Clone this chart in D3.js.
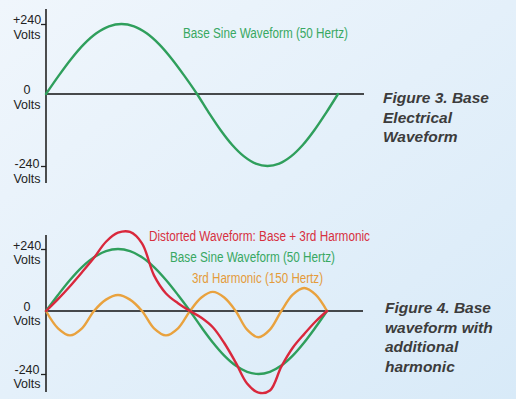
<!DOCTYPE html>
<html><head><meta charset="utf-8">
<script src="https://cdn.jsdelivr.net/npm/d3@7"></script>
<style>
html,body{margin:0;padding:0;background:#e6f1fa;}
svg{display:block;}
</style></head>
<body>
<svg id="chart" width="516" height="399"></svg>
<script>
// ---- data (phase angle in degrees, volts) ----
const angles = [0,15,30,45,60,75,90,105,120,135,150,165,180,195,210,225,240,255,270,285,300,315,330,345,360];
const baseSine = [0,62,120,170,208,232,240,232,208,170,120,62,0,-62,-120,-170,-208,-232,-240,-232,-208,-170,-120,-62,0];
const thirdHarmonic = [0,-66,-93,-66,0,44,62,44,0,-66,-93,-66,0,52,74,52,0,-71,-100,-71,0,63,89,63,0];
const distorted = [0,46,96,150,206,268,303,306,262,138,68,30,0,-26,-62,-122,-196,-276,-311,-303,-212,-140,-88,-40,0];
const tickValues = [240,0,-240];
const tickLabels = ["+240","0","-240"];
const fig3Caption = ["Figure 3. Base","Electrical","Waveform"];
const fig4Caption = ["Figure 4. Base","waveform with","additional","harmonic"];
const labelTop = "Base Sine Waveform (50 Hertz)";
const labelsBottom = ["Distorted Waveform: Base + 3rd Harmonic","Base Sine Waveform (50 Hertz)","3rd Harmonic (150 Hertz)"];

const svg = d3.select("#chart");
const defs = svg.append("defs");
const grad = defs.append("linearGradient").attr("id","bg").attr("x1","0").attr("y1","0").attr("x2","1").attr("y2","1");
grad.append("stop").attr("offset","0%").attr("stop-color","#f0f6fc");
grad.append("stop").attr("offset","100%").attr("stop-color","#d8eaf8");
svg.append("rect").attr("width",516).attr("height",399).attr("fill","url(#bg)");

const GREEN="#2f9f5c", RED="#d9283c", ORANGE="#e9a23e";
const narrow = "'Liberation Sans Narrow','Arial Narrow','Liberation Sans',Arial,sans-serif";

function panel(cfg){
  const x = d3.scaleLinear().domain([0,180,360]).range(cfg.xr);
  const y = d3.scaleLinear().domain([-240,0,240]).range(cfg.yr);
  const g = svg.append("g");
  const axis = d3.axisLeft(y).tickValues(tickValues).tickSize(5).tickFormat("");
  const ag = g.append("g").attr("transform",`translate(${cfg.xr[0]},0)`).call(axis);
  ag.select(".domain").remove();
  ag.selectAll(".tick line").attr("stroke","#222").attr("stroke-width",1.3);
  ag.selectAll(".tick").filter(d=>d===0).select("line").remove();
  g.append("line").attr("x1",cfg.xr[0]).attr("x2",cfg.xr[0]).attr("y1",cfg.axisTop).attr("y2",cfg.axisBottom)
    .attr("stroke","#222").attr("stroke-width",1.6);
  g.append("line").attr("x1",cfg.xr[0]).attr("x2",cfg.zeroEnd).attr("y1",y(0)).attr("y2",y(0))
    .attr("stroke","#111").attr("stroke-width",1.5);
  tickValues.forEach((v,i)=>{
    g.append("text").attr("x",27).attr("y",y(v)+cfg.labOff[i]).attr("text-anchor","middle")
      .attr("font-family",narrow).attr("font-size",12.5).attr("fill","#222").text(tickLabels[i]);
    g.append("text").attr("x",27).attr("y",y(v)+cfg.labOff[i]+cfg.voltsGap).attr("text-anchor","middle")
      .attr("font-family",narrow).attr("font-size",12.5).attr("fill","#222").text("Volts");
  });
  const line = d3.line().x((d,i)=>x(angles[i])).y(d=>y(d)).curve(d3.curveCatmullRom.alpha(0.5));
  cfg.series.forEach(s=>{
    g.append("path").attr("d",line(s.values)).attr("fill","none").attr("stroke",s.color)
      .attr("stroke-width",2.4).attr("stroke-linejoin","round").attr("stroke-linecap","round");
  });
}

panel({xr:[46,197,338], yr:[166,94,24], axisTop:9, axisBottom:183, zeroEnd:364,
  labOff:[0,0,2], voltsGap:15,
  series:[{values:baseSine,color:GREEN}]});
panel({xr:[46,190,327], yr:[374,311,249], axisTop:235, axisBottom:392, zeroEnd:363,
  labOff:[1,0,0], voltsGap:14,
  series:[{values:thirdHarmonic,color:ORANGE},{values:baseSine,color:GREEN},{values:distorted,color:RED}]});

function lab(txt,x,y,w,color){
  svg.append("text").attr("x",x).attr("y",y).attr("font-family",narrow).attr("font-size",14)
    .attr("fill",color).attr("textLength",w).attr("lengthAdjust","spacingAndGlyphs").text(txt);
}
lab(labelTop,183,38,165,"#38a862");
lab(labelsBottom[0],149,241,221,"#d7303f");
lab(labelsBottom[1],170,262,165,"#38a862");
lab(labelsBottom[2],192,283,131,"#e49b3a");

function caption(lines,x,y0,dy){
  lines.forEach((l,i)=>{
    svg.append("text").attr("x",x).attr("y",y0+i*dy).attr("font-family","'Liberation Sans',Arial,sans-serif")
      .attr("font-size",15.5).attr("font-weight","bold").attr("font-style","italic").attr("fill","#3c3c3c").text(l);
  });
}
caption(fig3Caption,383,103,19.5);
caption(fig4Caption,385,313,19.7);
</script>
</body></html>
